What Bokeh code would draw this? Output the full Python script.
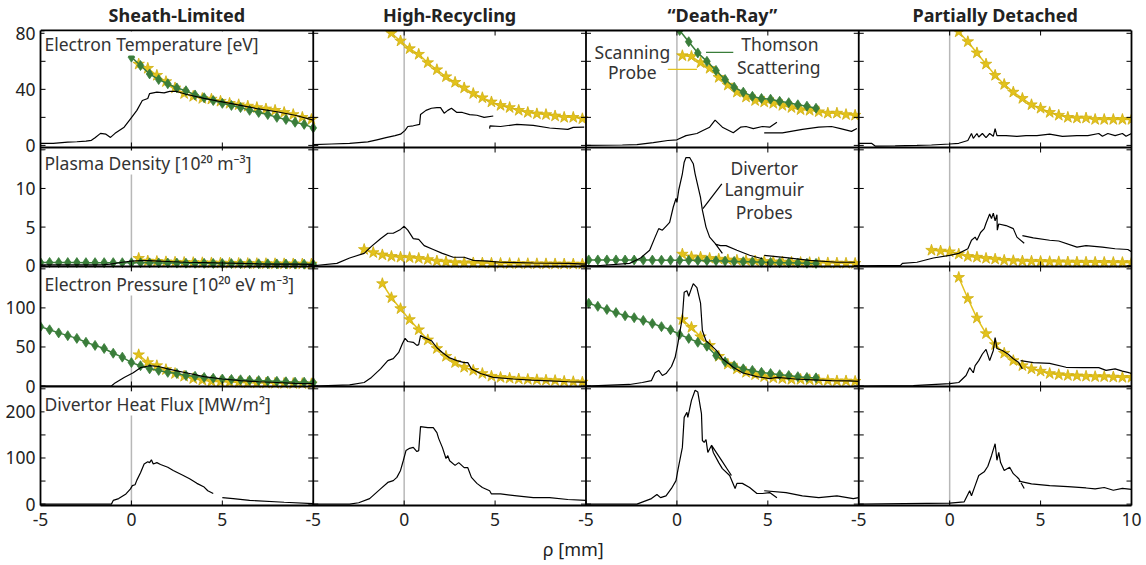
import math
from bokeh.plotting import figure
from bokeh.layouts import column
from bokeh.models import Range1d, FixedTicker, Label, Span, LinearAxis
from bokeh.core.properties import value
from bokeh.embed import file_html
from bokeh.resources import INLINE

NaN = float("nan")

# ---------------- labels ----------------
REGIMES = ["Sheath-Limited", "High-Recycling", "\u201cDeath-Ray\u201d", "Partially Detached"]
QUANTITIES = ["Electron Temperature [eV]",
              "Plasma Density [10\u00b2\u2070 m\u207b\u00b3]",
              "Electron Pressure [10\u00b2\u2070 eV m\u207b\u00b3]",
              "Divertor Heat Flux [MW/m\u00b2]"]
X_LABEL = "\u03c1 [mm]"
RHO_TICKS = [-5, 0, 5]
RHO_LAST_TICK = 10
Y_TICKS = [[0, 20, 40, 60, 80], [0, 5, 10, 15], [0, 50, 100, 150], [0, 50, 100, 150, 200, 250]]
Y_LABELED = [[0, 40, 80], [0, 5, 10], [0, 50, 100], [0, 100, 200]]
Y_RANGES = [(-1.5, 82), (-0.1, 15.3), (-0.6, 153), (-3, 255)]

# ---------------- data: Sheath-Limited ----------------
SL_TE_LP_RHO = [-5, -4.3, -3.5, -3, -2.5, -2.2, -2.0, -1.7, -1.4, -1.15, -0.9, -0.4, -0.05, 0.3, 0.6, 0.9, 1.0, 1.4, 1.8, 2.1, 2.5, 3, 4, 5, 6, 7, 8, 9, 10]
SL_TE_LP = [1.4, 1.5, 2.3, 2.6, 3.0, 3.6, 5.5, 8.6, 8.0, 5.7, 8.6, 13, 19, 25, 32, 33.5, 37, 38, 37.5, 38.5, 38.5, 36.5, 33.5, 31, 28.5, 26, 24, 21.5, 18]
SL_TS_RHO_A = [0, 0.5, 1, 1.5, 2, 2.5, 3, 3.5, 4, 4.5, 5, 5.5, 6, 6.5, 7, 7.5, 8, 8.5, 9, 9.5, 10]
SL_TE_TS = [63, 57, 51, 47, 44, 41, 39, 36, 34, 32, 30, 28.5, 27, 25, 23.5, 22, 20, 18.5, 16.5, 15, 12.5]
SL_SP_RHO = [0.4, 0.9, 1.4, 1.9, 2.4, 2.9, 3.4, 3.9, 4.4, 4.9, 5.4, 5.9, 6.4, 6.9, 7.4, 7.9, 8.4, 8.9, 9.4, 9.9]
SL_TE_SP = [58, 55, 50, 45.5, 41, 37, 35, 33.5, 33, 31.5, 30, 29, 28, 27, 26, 25, 23.5, 22, 20, 18.5]

SL_NE_LP_RHO = [-5, -3, -2, -1.5, -1.15, -0.5, 0, 0.5, 1, 1.5, 2, 3, 4, 5, 6, 7, 8, 9, 10]
SL_NE_LP = [0.1, 0.1, 0.12, 0.15, 0.2, 0.45, 0.6, 0.65, 0.65, 0.6, 0.55, 0.45, 0.4, 0.35, 0.3, 0.25, 0.22, 0.2, 0.18]
SL_TS_RHO_B = [-5, -4.5, -4, -3.5, -3, -2.5, -2, -1.5, -1, -0.5, 0, 0.5, 1, 1.5, 2, 2.5, 3, 3.5, 4, 4.5, 5, 5.5, 6, 6.5, 7, 7.5, 8, 8.5, 9, 9.5, 10]
SL_NE_TS = [0.42, 0.42, 0.41, 0.41, 0.41, 0.40, 0.40, 0.40, 0.40, 0.39, 0.39, 0.38, 0.37, 0.36, 0.35, 0.34, 0.33, 0.32, 0.31, 0.30, 0.29, 0.28, 0.27, 0.26, 0.25, 0.24, 0.23, 0.22, 0.21, 0.20, 0.19]
SL_NE_SP = [0.95, 0.6, 0.55, 0.5, 0.45, 0.42, 0.4, 0.38, 0.36, 0.34, 0.32, 0.3, 0.28, 0.27, 0.26, 0.25, 0.24, 0.23, 0.22, 0.21]

SL_PE_LP_RHO = [-5, -1.1, -0.9, -0.4, 0.1, 0.5, 1.0, 1.5, 2.0, 2.5, 3, 4, 5, 6, 7, 8, 9, 10]
SL_PE_LP = [0, 0, 4, 11, 17, 23.5, 26, 25, 22, 19.5, 17, 12, 9, 7, 5.5, 4.5, 3.5, 3]
SL_PE_TS = [76, 72, 68, 64.5, 61, 56, 52, 48, 42, 37, 30, 26, 22, 20, 17.5, 16, 13.5, 12.5, 11, 10, 9, 8.5, 8, 7.5, 7, 6.5, 6, 5.5, 5, 5, 4.5]
SL_PE_SP = [40, 30, 26, 21, 16, 12.5, 9.5, 7.5, 6, 5.5, 5, 4.5, 4.2, 4, 3.8, 3.5, 3.3, 3.1, 3, 2.8]

SL_Q_LP_RHO = [-5, -1.1, -1.0, -0.7, -0.3, -0.05, 0.05, 0.2, 0.3, 0.5, 0.7, 0.9, 1.0, 1.1, 1.2, 1.4, 1.6, 2.0, 2.3, 2.8, 3.2, 3.6, 4.0, 4.2, 4.5, NaN, 5.0, 5.6, 6.5, 8.4, 10]
SL_Q_LP = [0, 0, 8, 12, 22, 33, 40, 42, 52, 68, 87, 92, 90, 96, 87, 90, 86, 80, 73, 63, 55, 45, 37, 29, 23, NaN, 14, 12, 8, 4, 1]

# ---------------- data: High-Recycling ----------------
HR_SP_RHO = [-2.2, -1.7, -1.2, -0.7, -0.2, 0.3, 0.8, 1.3, 1.8, 2.3, 2.8, 3.3, 3.8, 4.3, 4.8, 5.3, 5.8, 6.3, 6.8, 7.3, 7.8, 8.3, 8.8, 9.3, 9.8]
HR_TE_SP = [96, 91, 85.5, 80, 74.5, 69, 65, 59, 54, 49, 45, 41, 37, 34, 31, 28.5, 27, 25, 23.5, 22.5, 22, 21, 20, 20, 19]
HR_TE_LP_RHO = [-5, -4, -3, -2, -1.5, -1, -0.5, -0.2, 0.05, 0.2, 0.5, 0.85, 0.9, 1.2, 1.5, 1.8, 2.0, 2.2, 2.4, 2.6, 2.9, 3.2, 3.6, 4.0, 4.4, 4.9, NaN, 4.7, 4.72, 5.3, 6.2, 7.1, 8.0, 9.0, 9.3, 9.9]
HR_TE_LP = [0.5, 1, 1.5, 2.5, 4, 5.5, 7, 8, 10.7, 13.5, 14, 15, 22, 25, 26.5, 27, 27, 23, 25, 26.5, 23.5, 23.5, 22, 21.5, 20, 21, NaN, 12, 14, 13.5, 15, 14.3, 12.4, 11.4, 12.9, 13]

HR_NE_LP_RHO = [-5, -3.7, -3.0, -2.2, -1.8, -1.3, -0.9, -0.6, -0.2, 0, 0.2, 0.5, 0.8, 1.1, 1.6, 2.1, 2.7, 3.3, 3.8, 4.6, 5.3, 7.1, 9.0, 10]
HR_NE_LP = [0, 0.3, 1.0, 1.6, 2.5, 3.5, 4.2, 4.2, 4.7, 5.1, 4.6, 3.5, 3.4, 2.6, 2.1, 1.6, 1.1, 1.1, 0.7, 0.6, 0.45, 0.35, 0.3, 0.2]
HR_NE_SP = [2.1, 1.7, 1.4, 1.2, 1.1, 1.05, 0.95, 0.8, 0.6, 0.5, 0.4, 0.38, 0.36, 0.34, 0.32, 0.3, 0.28, 0.27, 0.26, 0.25, 0.24, 0.23, 0.22, 0.21, 0.2]

HR_PE_SP_RHO = [-1.2, -0.7, -0.2, 0.3, 0.8, 1.3, 1.8, 2.3, 2.8, 3.3, 3.8, 4.3, 4.8, 5.3, 5.8, 6.3, 6.8, 7.3, 7.8, 8.3, 8.8, 9.3, 9.8]
HR_PE_SP = [131, 113, 99, 85, 72, 59, 48, 38, 30, 24, 20, 16, 12.5, 11, 10, 9, 8.5, 8, 7.5, 7, 6, 5.5, 5]
HR_PE_LP_RHO = [-5, -3, -2.2, -1.8, -1.3, -0.9, -0.6, -0.3, -0.1, 0.05, 0.2, 0.5, 0.7, 0.8, 0.9, 1.2, 1.5, 1.8, 2.1, 2.5, 2.9, 3.3, 3.5, 3.7, 4.2, 4.9, 6, 7, 8, 9, 10]
HR_PE_LP = [0, 1.5, 4.5, 11, 22, 32.5, 35, 43, 54, 61, 57, 56, 52, 53, 64.5, 61, 58, 49, 43, 36, 32.5, 30, 30, 22, 16, 11, 9, 7.5, 6.5, 5.5, 5]

HR_Q_LP_RHO = [-5, -3.0, -2.5, -1.9, -1.3, -0.9, -0.6, -0.4, -0.2, -0.05, 0.1, 0.3, 0.5, 0.7, 0.8, 0.9, 1.3, 1.6, 1.8, 1.9, 2.1, 2.3, 2.4, 2.5, 2.8, 3.0, 3.3, 3.5, 3.7, 4.0, 4.3, 4.7, 4.8, 5.3, 6.2, 7.1, 8.0, 9.0, 10]
HR_Q_LP = [0, 0, 3, 12, 33, 47, 51, 58, 73, 94, 116, 121, 123, 114, 116, 168, 166, 166, 155, 142, 123, 99, 105, 94, 84, 90, 79, 79, 58, 45, 36, 29, 22, 22, 18, 14, 14, 10, 8]

# ---------------- data: "Death-Ray" ----------------
DR_TE_TS_RHO = [-0.35, 0.15, 0.65, 1.15, 1.65, 2.15, 2.65, 3.15, 3.65, 4.15, 4.65, 5.15, 5.65, 6.15, 6.65, 7.15, 7.65]
DR_TE_TS = [90, 82, 74, 66, 60, 53.5, 47, 41.5, 38, 35, 33.5, 33, 31.5, 30.5, 29, 28, 26.5]
DR_SP_RHO = [0.3, 0.8, 1.3, 1.8, 2.3, 2.8, 3.3, 3.8, 4.3, 4.8, 5.3, 5.8, 6.3, 6.8, 7.3, 7.8, 8.3, 8.8, 9.3, 9.8]
DR_TE_SP = [64, 63.5, 59, 55, 48.5, 43, 38, 34.5, 32, 31, 30, 28.5, 27, 25.5, 25, 24, 23, 23, 22, 21.5]
DR_TE_LP_RHO = [-5, -3, -2.2, -1.3, -0.5, 0, 0.5, 1.1, 1.4, 1.8, 2.1, 2.3, 2.5, 2.8, 3.1, 3.5, 3.8, 4.2, 4.7, 5.1, 5.5, NaN, 4.8, 5.8, 6.9, 7.8, 8.5, 9.0, 9.6, 9.9]
DR_TE_LP = [0, 0.3, 0.5, 2, 3.5, 4, 7, 8.5, 10.5, 13, 18, 15.5, 13, 11, 9, 13, 13.5, 12, 13.5, 13, 16.5, NaN, 9, 9, 11.5, 13, 13.5, 12, 10, 12]

DR_TS_RHO = [-4.85, -4.35, -3.85, -3.35, -2.85, -2.35, -1.85, -1.35, -0.85, -0.35, 0.15, 0.65, 1.15, 1.65, 2.15, 2.65, 3.15, 3.65, 4.15, 4.65, 5.15, 5.65, 6.15, 6.65, 7.15, 7.65]
DR_NE_TS = [0.75, 0.75, 0.75, 0.75, 0.74, 0.74, 0.73, 0.73, 0.72, 0.72, 0.7, 0.7, 0.68, 0.66, 0.64, 0.6, 0.56, 0.52, 0.5, 0.46, 0.43, 0.4, 0.38, 0.35, 0.32, 0.3]
DR_NE_SP = [1.5, 1.15, 1.1, 0.95, 0.85, 0.75, 0.7, 0.65, 0.6, 0.55, 0.5, 0.48, 0.45, 0.42, 0.4, 0.38, 0.36, 0.34, 0.32, 0.3]
DR_NE_LP_RHO = [-5, -4.4, -2.6, -2.0, -1.5, -1.2, -1.0, -0.8, -0.6, -0.4, -0.2, -0.05, 0.0, 0.1, 0.3, 0.4, 0.5, 0.7, 0.9, 1.0, 1.3, 1.4, 1.6, 1.8, 2.1, 2.5, NaN, 2.1, 2.4, 2.7, 3.3, 4.0, 4.7, NaN, 4.8, 6.0, 7.3, 8.8, 9.8]
DR_NE_LP = [0, 0, 0.3, 1.0, 2.0, 3.7, 4.8, 4.6, 5.1, 5.6, 7.6, 8.7, 8.2, 9.8, 11.9, 13.4, 14, 14, 13.2, 11.9, 8.8, 7.2, 5.0, 3.7, 2.9, 1.6, NaN, 2.8, 2.6, 2.6, 2.0, 1.35, 0.9, NaN, 1.35, 1.05, 0.7, 0.45, 0.45]

DR_PE_TS = [106, 102, 98, 94, 90, 87.5, 84, 80, 76, 72, 66, 61, 56, 51, 39, 31, 26, 22, 20, 17.5, 16, 14.5, 13.5, 12, 11, 10.5]
DR_PE_SP = [85, 75, 63, 52, 38, 28, 22, 17.5, 14.5, 12, 10.5, 9.5, 8.5, 8.5, 8, 7.5, 7, 6.5, 6.5, 6]
DR_PE_LP_RHO = [-5, -2.6, -1.9, -1.4, -1.2, -1.0, -0.8, -0.6, -0.3, -0.1, 0.05, 0.3, 0.4, 0.55, 0.65, 0.8, 0.9, 1.1, 1.3, 1.4, 1.6, 1.8, 2.2, 2.5, 3.1, 3.6, 4.4, 5.1, 5.5, 6.5, 7.5, 8.5, 9.5, 10]
DR_PE_LP = [0, 2, 4.5, 7, 17, 20, 13.5, 16, 25, 36.5, 54, 88, 120, 122, 115, 125, 131, 126, 106, 71, 58, 54, 45, 35, 24, 17, 12, 9.5, 11, 9, 8, 7, 6.5, 6]

DR_Q_LP_RHO = [-5, -2.2, -1.4, -1.1, -0.9, -0.6, -0.3, -0.05, 0.05, 0.3, 0.4, 0.55, 0.6, 0.8, 1.0, 1.15, 1.35, 1.4, 1.5, 1.6, 1.7, 1.9, 2.0, 2.3, 2.5, 2.9, 3.2, 3.3, 3.6, 4.0, 4.4, 4.7, 5.1, 5.5, NaN, 1.9, 2.2, 2.5, 2.8, 3.0, NaN, 4.8, 6.0, 6.9, 7.8, 8.8, 9.7, 10]
DR_Q_LP = [0, 0, 12, 21, 14, 18, 34, 51, 73, 123, 188, 199, 188, 225, 247, 243, 196, 138, 134, 140, 112, 127, 112, 90, 77, 62, 34, 45, 45, 36, 23, 23, 25, 14, NaN, 128, 110, 92, 74, 62, NaN, 29, 25, 18, 14, 18, 12, 14]

# ---------------- data: Partially Detached ----------------
PD_SP_RHO = [0, 0.5, 1, 1.5, 2, 2.5, 3, 3.5, 4, 4.5, 5, 5.5, 6, 6.5, 7, 7.5, 8, 8.5, 9, 9.5, 10]
PD_TE_SP = [88, 81, 74, 66, 58, 50, 43.5, 38, 33.5, 29, 26.5, 23.5, 21.5, 20, 19.5, 19.5, 18.5, 18.5, 18.5, 18.5, 18.5]
PD_TE_LP_RHO = [-5, -4.3, -4.1, -3, -1.8, -1, 0, 0.5, 1.0, 1.2, 1.3, 1.5, 1.6, 1.8, 2.0, 2.2, 2.4, 2.5, 2.6, 3.1, 3.7, 4.2, 4.8, 5.5, 6.2, 7.0, 7.6, 8.2, 8.4, 8.7, 9.1, 9.5, 9.7, 10]
PD_TE_LP = [1.5, 1.5, -0.5, -0.3, 0, 0.3, 1, 1.5, 3.5, 8.5, 5, 8.5, 6, 8.5, 5.5, 8.5, 6.5, 12, 7, 7, 6.5, 7, 7, 8, 6.5, 7, 7, 8.5, 6.5, 8.5, 7, 8.5, 6.5, 8.5]

PD_NE_SP_RHO = [-1.0, -0.5, 0, 0.5, 1, 1.5, 2, 2.5, 3, 3.5, 4, 4.5, 5, 5.5, 6, 6.5, 7, 7.5, 8, 8.5, 9, 9.5, 10]
PD_NE_SP = [2.0, 1.9, 1.8, 1.5, 1.2, 1.1, 0.95, 0.85, 0.7, 0.65, 0.6, 0.58, 0.55, 0.52, 0.5, 0.48, 0.46, 0.45, 0.44, 0.43, 0.42, 0.41, 0.4]
PD_NE_LP_RHO = [-5, -2.7, -2.6, -1.8, -0.9, 0, 0.5, 1.0, 1.2, 1.4, 1.5, 1.7, 1.9, 2.0, 2.2, 2.3, 2.4, 2.5, 2.6, 2.62, 2.7, 3.1, 3.5, 3.7, 4.1, NaN, 4.0, 4.6, 5.5, 6.0, 7.0, 7.5, 8.4, 9.1, 9.8, 10]
PD_NE_LP = [0, 0.05, 0.3, 0.45, 1.0, 1.35, 1.6, 2.2, 3.3, 3.7, 3.3, 4.3, 4.8, 5.5, 6.7, 6.1, 6.8, 5.8, 6.6, 4.6, 5.4, 5.2, 4.8, 3.7, 2.9, NaN, 3.9, 3.6, 3.3, 3.2, 2.4, 2.6, 2.4, 2.2, 2.1, 1.8]

PD_PE_SP_RHO = [0.5, 1, 1.5, 2, 2.5, 3, 3.5, 4, 4.5, 5, 5.5, 6, 6.5, 7, 7.5, 8, 8.5, 9, 9.5, 10]
PD_PE_SP = [139, 112, 87, 67, 53, 42, 32.5, 26, 22, 19, 16, 14.5, 13.5, 13, 12.5, 12, 12, 11.5, 11, 11]
PD_PE_LP_RHO = [-5, -2, 0, 0.5, 0.9, 1.1, 1.3, 1.4, 1.6, 1.8, 2.0, 2.2, 2.4, 2.5, 2.6, 2.9, 3.2, 3.5, 3.8, 4.0, NaN, 3.9, 4.6, 5.5, 6.4, 7.3, 8.2, 8.6, 9.1, 9.5, 9.8, 10]
PD_PE_LP = [0, 0.5, 3, 4.5, 13.5, 23.5, 17, 26, 32.5, 41, 47, 32.5, 45.5, 62, 48, 45.5, 41, 35, 30, 22, NaN, 32.5, 30, 29, 24, 23.5, 23.5, 20, 22, 19, 17.5, 16]

PD_Q_LP_RHO = [-5, 0, 0.8, 1.1, 1.2, 1.4, 1.6, 1.9, 2.1, 2.3, 2.5, 2.6, 2.7, 2.8, 3.0, 3.3, 3.5, 3.8, 4.1, NaN, 3.8, 4.5, 5.5, 6.5, 7.5, 8.0, 8.5, 9.0, 9.5, 10]
PD_Q_LP = [0, 2, 5, 29, 18, 40, 62, 70, 82, 105, 131, 95, 112, 90, 73, 80, 66, 55, 34, NaN, 50, 44, 40, 38, 35, 33, 36, 30, 34, 32]

# ---------------- annotations (column 3, in rho / data units of their row) ----------------
TE_NOTES = ["Scanning", "Probe", "Thomson", "Scattering"]
TE_NOTES_RHO = [-2.45, -2.45, 5.66, 5.6]
TE_NOTES_Y = [66.4, 52.5, 72.5, 56]
NE_NOTES = ["Divertor", "Langmuir", "Probes"]
NE_NOTES_RHO = [4.8, 4.8, 4.8]
NE_NOTES_Y = [12.7, 9.9, 6.9]
SCAN_LEADER = ([-0.5, 1.1], [54.3, 54.3])
THOM_LEADER = ([1.6, 3.1], [66.4, 66.4])
LANG_LEADER = ([1.43, 2.47], [7.4, 10.6])

# ---------------- style / layout ----------------
GREEN = "#3a7d3a"
YELLOW = "#e3c21c"
YELLOW_EDGE = "#cfae10"
ZERO_GRAY = "#b8b8b8"
TEXT = "#333333"
FONT = "Noto Sans"
COL_SPAN = 15          # one panel covers rho -5 .. 10
FRAME_W = 1091
ROW_H = [117, 119, 120, 119]
GRID_H = sum(ROW_H)
TITLE_H = 30
EDGE_W = 1.8

PANELS = {
    (0, 0): [("SP", SL_SP_RHO, SL_TE_SP), ("TS", SL_TS_RHO_A, SL_TE_TS), ("LP", SL_TE_LP_RHO, SL_TE_LP)],
    (1, 0): [("SP", SL_SP_RHO, SL_NE_SP), ("TS", SL_TS_RHO_B, SL_NE_TS), ("LP", SL_NE_LP_RHO, SL_NE_LP)],
    (2, 0): [("SP", SL_SP_RHO, SL_PE_SP), ("TS", SL_TS_RHO_B, SL_PE_TS), ("LP", SL_PE_LP_RHO, SL_PE_LP)],
    (3, 0): [("LP", SL_Q_LP_RHO, SL_Q_LP)],
    (0, 1): [("SP", HR_SP_RHO, HR_TE_SP), ("LP", HR_TE_LP_RHO, HR_TE_LP)],
    (1, 1): [("SP", HR_SP_RHO, HR_NE_SP), ("LP", HR_NE_LP_RHO, HR_NE_LP)],
    (2, 1): [("SP", HR_PE_SP_RHO, HR_PE_SP), ("LP", HR_PE_LP_RHO, HR_PE_LP)],
    (3, 1): [("LP", HR_Q_LP_RHO, HR_Q_LP)],
    (0, 2): [("SP", DR_SP_RHO, DR_TE_SP), ("TS", DR_TE_TS_RHO, DR_TE_TS), ("LP", DR_TE_LP_RHO, DR_TE_LP)],
    (1, 2): [("SP", DR_SP_RHO, DR_NE_SP), ("TS", DR_TS_RHO, DR_NE_TS), ("LP", DR_NE_LP_RHO, DR_NE_LP)],
    (2, 2): [("SP", DR_SP_RHO, DR_PE_SP), ("TS", DR_TS_RHO, DR_PE_TS), ("LP", DR_PE_LP_RHO, DR_PE_LP)],
    (3, 2): [("LP", DR_Q_LP_RHO, DR_Q_LP)],
    (0, 3): [("SP", PD_SP_RHO, PD_TE_SP), ("LP", PD_TE_LP_RHO, PD_TE_LP)],
    (1, 3): [("SP", PD_NE_SP_RHO, PD_NE_SP), ("LP", PD_NE_LP_RHO, PD_NE_LP)],
    (2, 3): [("SP", PD_PE_SP_RHO, PD_PE_SP), ("LP", PD_PE_LP_RHO, PD_PE_LP)],
    (3, 3): [("LP", PD_Q_LP_RHO, PD_Q_LP)],
}


def shift(rho, c):
    return [r + COL_SPAN * c for r in rho]


# vertical bands of the rows (main units = pixels from the grid bottom)
BANDS = []
top = GRID_H
for h in ROW_H:
    BANDS.append((top - h, top))
    top -= h


def band_pos(r, v):
    lo, hi = Y_RANGES[r]
    b0, b1 = BANDS[r]
    return round(b0 + (v - lo) / (hi - lo) * (b1 - b0), 4)


x_ticks = [t + COL_SPAN * c for c in range(4) for t in RHO_TICKS] + [RHO_LAST_TICK + COL_SPAN * 3]
x_labels = {t + COL_SPAN * c: str(t) for c in range(4) for t in RHO_TICKS}
x_labels[RHO_LAST_TICK + COL_SPAN * 3] = str(RHO_LAST_TICK)
boundaries = [RHO_LAST_TICK + COL_SPAN * c for c in range(3)]
edges_x = [-5] + boundaries + [55]

# ---- main figure: title band on top of the 4x4 grid ----
p = figure(x_range=Range1d(-5, 55), y_range=Range1d(0, GRID_H + TITLE_H),
           frame_width=FRAME_W, frame_height=GRID_H + TITLE_H,
           min_border_left=40, min_border_right=15, min_border_top=0, min_border_bottom=32,
           output_backend="svg", toolbar_location=None, tools="")
p.xgrid.visible = False
p.ygrid.visible = False
p.outline_line_color = None

label_pos = []
label_txt = {}
for r in range(4):
    for v in Y_LABELED[r]:
        pos = band_pos(r, v)
        label_pos.append(pos)
        label_txt[pos] = str(v)
for ax, ticks, overrides, standoff in ((p.yaxis[0], label_pos, label_txt, 5),
                                       (p.xaxis[0], x_ticks, x_labels, 7)):
    ax.ticker = FixedTicker(ticks=ticks)
    ax.major_label_overrides = overrides
    ax.axis_line_color = "black"
    ax.axis_line_width = EDGE_W
    ax.major_tick_in = 0
    ax.major_tick_out = 0
    ax.minor_tick_in = 0
    ax.minor_tick_out = 0
    ax.major_label_standoff = standoff
    ax.major_label_text_font = FONT
    ax.major_label_text_font_size = "17.5px"
    ax.major_label_text_color = "#222222"
p.yaxis[0].bounds = (0, GRID_H)
right = LinearAxis(ticker=FixedTicker(ticks=[]), bounds=(0, GRID_H), axis_line_color="black",
                   axis_line_width=EDGE_W, major_tick_in=0, major_tick_out=0,
                   minor_tick_in=0, minor_tick_out=0)
p.add_layout(right, "right")

# zero lines (behind the data)
p.segment(x0=[COL_SPAN * c for c in range(4)], y0=[0] * 4, x1=[COL_SPAN * c for c in range(4)],
          y1=[GRID_H] * 4, line_color=ZERO_GRAY, line_width=1.5, level="underlay")

for r in range(4):
    xy = p.subplot(x_source=p.x_range, y_source=Range1d(*Y_RANGES[r]),
                   x_target=p.x_range, y_target=Range1d(*BANDS[r]))
    for c in range(4):
        for kind, rho, vals in PANELS[(r, c)]:
            xs = shift(rho, c)
            if kind == "SP":
                xy.line(xs, vals, line_color=YELLOW, line_width=1.5)
                xy.scatter(xs, vals, marker="star", size=12, fill_color=YELLOW,
                           line_color=YELLOW_EDGE, line_width=0.8)
            elif kind == "TS":
                xy.line(xs, vals, line_color=GREEN, line_width=1.5)
                xy.scatter(xs, vals, marker="diamond", size=10, fill_color=GREEN,
                           line_color=GREEN, line_width=0.8)
            else:
                xy.line(xs, vals, line_color="black", line_width=1.2)
    if r == 0:
        xy.text(x=shift(TE_NOTES_RHO, 2), y=TE_NOTES_Y, text=TE_NOTES,
                text_font=value(FONT), text_font_size=value("17.5px"), text_color=TEXT,
                text_align="center", text_baseline="middle")
        xy.line(shift(SCAN_LEADER[0], 2), SCAN_LEADER[1], line_color=YELLOW, line_width=1.3)
        xy.line(shift(THOM_LEADER[0], 2), THOM_LEADER[1], line_color=GREEN, line_width=1.3)
    if r == 1:
        xy.text(x=shift(NE_NOTES_RHO, 2), y=NE_NOTES_Y, text=NE_NOTES,
                text_font=value(FONT), text_font_size=value("17.5px"), text_color=TEXT,
                text_align="center", text_baseline="middle")
        xy.line(shift(LANG_LEADER[0], 2), LANG_LEADER[1], line_color="black", line_width=1.2)

# the title band hides anything that pokes above the grid
p.quad(left=[-5], right=[55], bottom=[GRID_H], top=[GRID_H + TITLE_H], fill_color="white",
       line_color=None)

# panel borders
p.segment(x0=boundaries, y0=[0] * 3, x1=boundaries, y1=[GRID_H] * 3,
          line_color="black", line_width=EDGE_W)
for r in range(3):
    p.add_layout(Span(location=BANDS[r][0], dimension="width", line_color="black", line_width=EDGE_W))
p.add_layout(Span(location=GRID_H, dimension="width", line_color="black", line_width=EDGE_W))

# inward tick marks on every panel edge
ty_x, ty_y = [], []
for r in range(4):
    for v in Y_TICKS[r]:
        for ex in edges_x:
            ty_x.append(ex)
            ty_y.append(band_pos(r, v))
p.scatter(ty_x, ty_y, marker="dash", size=10, line_color="black", line_width=1)
inner_y = [b[0] for b in BANDS]
p.scatter([t for ey in inner_y for t in x_ticks], [ey for ey in inner_y for t in x_ticks],
          marker="dash", angle=math.pi / 2, size=10, line_color="black", line_width=1)
p.scatter(x_ticks, [GRID_H - 2.5] * len(x_ticks), marker="dash", angle=math.pi / 2, size=5,
          line_color="black", line_width=1)

# quantity labels
for r in range(4):
    y_off = [-1, -3, -5, -5][r]
    p.add_layout(Label(x=-5, y=BANDS[r][1], x_offset=4, y_offset=y_off, text=QUANTITIES[r],
                       text_font=FONT, text_font_size="17.5px", text_color=TEXT,
                       text_baseline="top", text_align="left",
                       background_fill_color="white", background_fill_alpha=1.0))

# regime titles
for c in range(4):
    p.add_layout(Label(x=2.5 + COL_SPAN * c, y=GRID_H + TITLE_H / 2, y_offset=1, text=REGIMES[c],
                       text_font=FONT, text_font_style="bold", text_font_size="18px",
                       text_color="#222222", text_align="center", text_baseline="middle"))

# ---- footer with x label ----
footer = figure(x_range=Range1d(-5, 55), y_range=Range1d(0, 1), frame_width=FRAME_W, frame_height=28,
                min_border_left=40, min_border_right=15, min_border_top=0, min_border_bottom=0,
                x_axis_location=None, y_axis_location=None,
                output_backend="svg", toolbar_location=None, tools="")
footer.outline_line_color = None
footer.xgrid.visible = False
footer.ygrid.visible = False
footer.add_layout(Label(x=24.3, y=0.5, y_offset=3, text=X_LABEL, text_font=FONT,
                        text_font_size="18px", text_color="#222222",
                        text_align="center", text_baseline="middle"))

layout = column(p, footer, spacing=0)
open("out.html", "w").write(file_html(layout, INLINE, "Divertor regimes"))
